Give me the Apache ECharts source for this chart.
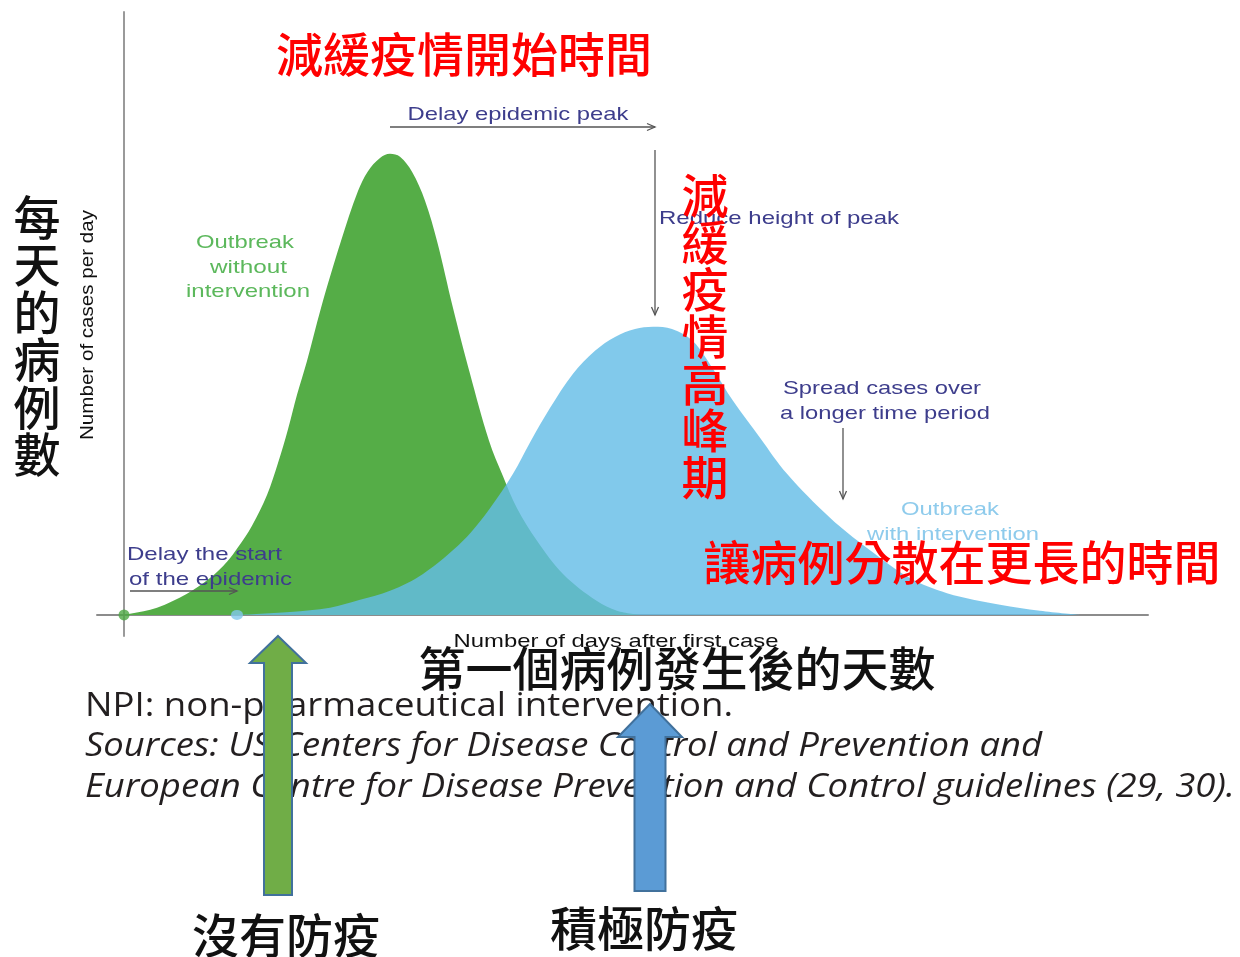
<!DOCTYPE html>
<html>
<head>
<meta charset="utf-8">
<script src="https://cdn.jsdelivr.net/npm/echarts@6/dist/echarts.min.js"></script>
<style>
html,body{margin:0;padding:0;background:#fff;}
#chart{width:1240px;height:957px;}
</style>
</head>
<body>
<div id="chart"></div>
<script>
// ---- data ----
const greenDays  = [0, 0.6, 3.3, 6.3, 8.6, 10.3, 11.4, 12.8, 14.3, 15.4, 16.4, 17.3, 18.3, 19.7, 21.7, 23.4, 24.4, 25.6, 26.6, 27.6, 28.8, 30.1, 31.3, 32.9, 34.6, 36.5, 37.9, 39.3, 41.3, 43.9, 47.3, 49.3, 51.6];
const greenCases = [0, 0.2, 1.2, 3.5, 6.1, 8.8, 11.2, 14.8, 19.9, 25.2, 30.8, 36.5, 42.1, 50.9, 62.0, 70.3, 73.6, 75.8, 76.5, 76.0, 73.5, 68.7, 62.0, 50.9, 40.0, 28.9, 23.0, 17.7, 12.3, 6.8, 2.3, 0.7, 0];
const blueDays   = [11.3, 16.6, 20.6, 23.6, 26.6, 29.9, 33.9, 36.6, 38.9, 40.6, 42.6, 44.9, 47.1, 49.1, 51.1, 52.9, 54.8, 56.9, 58.9, 60.9, 63.6, 66.3, 70.6, 74.3, 78.6, 82.3, 87.6, 91.6, 95.6];
const blueCases  = [0, 0.5, 1.2, 2.5, 4.0, 6.8, 12.3, 17.7, 23.4, 28.6, 34.3, 40.0, 43.8, 46.1, 47.4, 47.8, 47.4, 45.4, 40.8, 35.5, 29.4, 23.4, 16.1, 11.1, 6.1, 3.6, 1.7, 0.7, 0];
const startDays  = [0, 11.3];

const zip = (a, b) => a.map((v, i) => [v, b[i]]);

const CJK = '"Noto Sans CJK TC","Noto Sans CJK SC",sans-serif';
const EN = '"Liberation Sans",Arial,sans-serif';
const FOOT = '"Open Sans","Noto Sans",sans-serif';
const NAVY = '#3d3d8c';

const mctx = document.createElement('canvas').getContext('2d');
function fontStr(size, opts) {
  return (opts.style || 'normal') + ' ' + (opts.weight || 'normal') + ' ' + size + 'px ' + (opts.family || EN);
}
function txt(text, x, y, size, color, opts) {
  opts = opts || {};
  const font = fontStr(size, opts);
  let sx = 1;
  if (opts.width) { mctx.font = font; sx = opts.width / mctx.measureText(text).width; }
  return {
    type: 'text', z: opts.z || 100, x: x, y: y, rotation: opts.rotation || 0, scaleX: sx,
    style: {
      text: text, fill: color, font: font,
      align: opts.align || 'left', verticalAlign: opts.va || 'middle',
      lineHeight: opts.lh || Math.round(size * 1.2)
    }
  };
}
function thinArrow(x1, y1, x2, y2) {
  const ang = Math.atan2(y2 - y1, x2 - x1), L = 8, W = 3.5;
  const bx = x2 - L * Math.cos(ang), by = y2 - L * Math.sin(ang);
  const px = -Math.sin(ang) * W, py = Math.cos(ang) * W;
  return [
    { type: 'line', z: 90, shape: { x1: x1, y1: y1, x2: x2, y2: y2 }, style: { stroke: '#555', lineWidth: 1.3 } },
    { type: 'polyline', z: 90, shape: { points: [[bx + px, by + py], [x2, y2], [bx - px, by - py]] }, style: { stroke: '#555', lineWidth: 1.3, fill: null } }
  ];
}
function blockArrow(cx, tipY, bottomY, headW, headH, shaftW, fill) {
  return {
    type: 'polygon', z: 120,
    shape: { points: [[cx, tipY], [cx + headW / 2, tipY + headH], [cx + shaftW / 2, tipY + headH], [cx + shaftW / 2, bottomY], [cx - shaftW / 2, bottomY], [cx - shaftW / 2, tipY + headH], [cx - headW / 2, tipY + headH]] },
    style: { fill: fill, stroke: '#41719c', lineWidth: 2 }
  };
}

const chart = echarts.init(document.getElementById('chart'), null, { renderer: 'canvas' });
const graphics = [].concat(
  txt('減緩疫情開始時間', 464, 54, 47, '#ff0000', { family: CJK, weight: 500, align: 'center' }),
  txt('Delay epidemic peak', 518, 115, 19, NAVY, { align: 'center', width: 221 }),
  thinArrow(390, 127, 655, 127),
  thinArrow(655, 150, 655, 315),
  txt('Reduce height of peak', 659, 219, 19, NAVY, { width: 240 }),
  txt('減\n緩\n疫\n情\n高\n峰\n期', 705, 172, 47, '#ff0000', { family: CJK, weight: 500, align: 'center', va: 'top', lh: 47 }),
  txt('Outbreak', 245, 243, 19, '#5cb85c', { align: 'center', width: 98 }),
  txt('without', 248.5, 268, 19, '#5cb85c', { align: 'center', width: 77 }),
  txt('intervention', 248, 292, 19, '#5cb85c', { align: 'center', width: 124 }),
  txt('Spread cases over', 882, 389, 19, NAVY, { align: 'center', width: 198 }),
  txt('a longer time period', 885, 414, 19, NAVY, { align: 'center', width: 210 }),
  thinArrow(843, 428, 843, 499),
  txt('Outbreak', 950, 510, 19, '#8ecbec', { align: 'center', width: 98 }),
  txt('with intervention', 953, 535, 19, '#8ecbec', { align: 'center', width: 172 }),
  txt('讓病例分散在更長的時間', 962, 562, 47, '#ff0000', { family: CJK, weight: 500, align: 'center' }),
  txt('Delay the start', 127, 555, 19, NAVY, { width: 155 }),
  txt('of the epidemic', 129, 580, 19, NAVY, { width: 163 }),
  thinArrow(130, 591, 237, 591),
  txt('Number of days after first case', 616, 642, 19, '#111', { align: 'center', width: 325 }),
  txt('第一個病例發生後的天數', 677, 668, 47, '#111', { family: CJK, weight: 500, align: 'center' }),
  txt('每\n天\n的\n病\n例\n數', 37, 193, 47, '#111', { family: CJK, weight: 500, align: 'center', va: 'top', lh: 47.5 }),
  txt('Number of cases per day', 88, 325, 19, '#111', { align: 'center', rotation: Math.PI / 2, width: 230 }),
  txt('NPI: non-pharmaceutical intervention.', 85, 707, 32, '#231f20', { family: FOOT, weight: 500, width: 648 }),
  txt('Sources: US Centers for Disease Control and Prevention and', 85, 747, 32, '#231f20', { family: FOOT, weight: 500, style: 'italic', width: 957 }),
  txt('European Centre for Disease Prevention and Control guidelines (29, 30).', 85, 788, 32, '#231f20', { family: FOOT, weight: 500, style: 'italic', width: 1150 }),
  blockArrow(278, 636, 895, 56, 27, 28, '#70ad47'),
  blockArrow(650, 704, 891, 64, 33, 31, '#5b9bd5'),
  txt('沒有防疫', 286, 935, 47, '#111', { family: CJK, weight: 500, align: 'center' }),
  txt('積極防疫', 644, 928, 47, '#111', { family: CJK, weight: 500, align: 'center' })
);

chart.setOption({
  animation: false,
  backgroundColor: '#ffffff',
  grid: { left: 97, right: 92, top: 12, bottom: 321, outerBoundsMode: 'none', containLabel: false },
  xAxis: {
    type: 'value', min: -2.7, max: 102.4,
    axisLine: { show: true, onZero: true, lineStyle: { color: '#8c8c8c', width: 2 } },
    axisTick: { show: false }, axisLabel: { show: false }, splitLine: { show: false }
  },
  yAxis: {
    type: 'value', min: -3.5, max: 100,
    axisLine: { show: true, onZero: true, lineStyle: { color: '#9a9a9a', width: 2 } },
    axisTick: { show: false }, axisLabel: { show: false }, splitLine: { show: false }
  },
  series: [
    {
      name: 'Outbreak without intervention', type: 'line', smooth: 0.35, symbol: 'none', z: 2,
      data: zip(greenDays, greenCases),
      lineStyle: { width: 0 }, areaStyle: { color: '#55ad47', opacity: 1 }
    },
    {
      name: 'Outbreak with intervention', type: 'line', smooth: 0.35, symbol: 'none', z: 3,
      data: zip(blueDays, blueCases),
      lineStyle: { width: 0 }, areaStyle: { color: 'rgb(100,188,230)', opacity: 0.81 }
    },
    {
      name: 'start', type: 'scatter', z: 5,
      data: [
        { value: [startDays[0], 0], symbolSize: 11, itemStyle: { color: '#4ea843' } },
        { value: [startDays[1], 0], symbolSize: [12, 10], itemStyle: { color: '#82c8ec' } }
      ]
    }
  ],
  graphic: graphics
});
</script>
</body>
</html>
